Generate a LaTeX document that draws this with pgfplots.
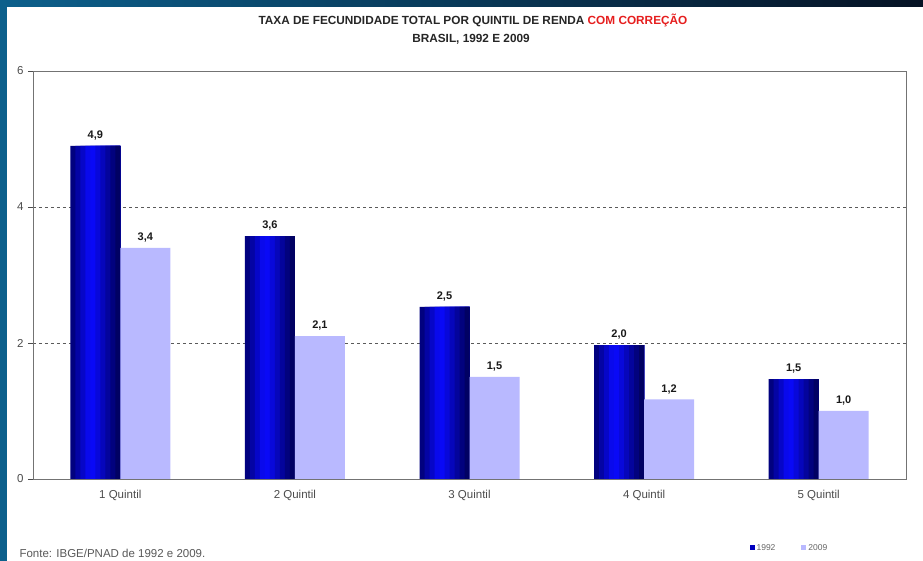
\documentclass[border=0pt]{standalone}
\usepackage{pgfplots}
\usepackage{pgfplotstable}
\pgfplotsset{compat=1.18}
\usepackage{fontspec}
\setmainfont{Liberation Sans}
\definecolor{darkbar}{RGB}{0,0,110}
\definecolor{darkbarR}{RGB}{0,0,85}
\definecolor{brightbar}{RGB}{10,10,255}
\definecolor{lightbar}{RGB}{185,185,255}
\definecolor{gridc}{RGB}{90,90,90}
\definecolor{titlered}{RGB}{230,30,30}
\definecolor{bgleft}{RGB}{12,96,140}
\definecolor{bgright}{RGB}{6,18,36}
\pgfplotstableread{
x y
0 4.9
1 3.57
2 2.53
3 1.97
4 1.47
}\dataA
\pgfplotstableread{
x y
0 3.4
1 2.1
2 1.5
3 1.17
4 1.0
}\dataB
\begin{document}
\begin{tikzpicture}
\useasboundingbox (0pt,0pt) rectangle (923pt,561pt);
\fill[white] (0pt,0pt) rectangle (923pt,561pt);
\fill[bgleft] (0pt,0pt) rectangle (7pt,561pt);
\shade[left color=bgleft, right color=bgright] (0pt,554pt) rectangle (923pt,561pt);
\node[font=\fontsize{11.8}{13}\selectfont\bfseries, text=black!85] at (473pt,541pt) {TAXA DE FECUNDIDADE TOTAL POR QUINTIL DE RENDA \textcolor{titlered}{COM CORREÇÃO}};
\node[font=\fontsize{11.8}{13}\selectfont\bfseries, text=black!85] at (471pt,522pt) {BRASIL, 1992 E 2009};
\node[font=\fontsize{11.5}{13}\selectfont, text=black!65, anchor=west] at (16pt,8pt) {Fonte: IBGE/PNAD de 1992 e 2009.};
\begin{axis}[
  at={(33pt,82pt)}, anchor=south west,
  scale only axis, width=873pt, height=408pt,
  ybar, bar width=50pt,
  xmin=-0.5, xmax=4.5, ymin=0, ymax=6,
  xtick={0,1,2,3,4},
  xticklabels={1 Quintil,2 Quintil,3 Quintil,4 Quintil,5 Quintil},
  extra x ticks={0.5,1.5,2.5,3.5},
  extra x tick labels={},
  extra x tick style={major tick length=5pt, tick style={black!70}, tick align=outside},
  ytick={0,2,4,6},
  ymajorgrids,
  major grid style={dashed, gridc, line width=0.6pt},
  axis line style={black!55, line width=0.8pt},
  tick align=outside,
  tick pos=left,
  xtick style={draw=none},
  ytick style={black!70},
  major tick length=5pt,
  /pgf/number format/assume math mode=true,
  ticklabel style={font=\fontsize{11.5}{13}\selectfont, text=black!70},
  yticklabel style={xshift=-1pt},
  xticklabel style={yshift=-3pt},
  legend style={at={(0.8665,-0.169)}, anchor=center, draw=none, fill=none,
    legend columns=2, font=\fontsize{8.5}{9}\selectfont, text=black!60,
    /tikz/every even column/.append style={column sep=24pt}},
  legend image code/.code={\fill[#1] (0pt,-2.5pt) rectangle (5pt,2.5pt);},
]
% 1992 bars drawn as nested vertical stripes to imitate the gradient
\addplot[forget plot, draw=none, fill=brightbar!12!darkbar,  bar width=50pt, bar shift=-25pt] table[x=x,y=y] {\dataA};
\addplot[forget plot, draw=none, fill=brightbar!37!darkbar,  bar width=45pt, bar shift=-22.5pt] table[x=x,y=y] {\dataA};
\addplot[forget plot, draw=none, fill=brightbar!62!darkbar,  bar width=40pt, bar shift=-20pt] table[x=x,y=y] {\dataA};
\addplot[forget plot, draw=none, fill=brightbar!87!darkbar,  bar width=35pt, bar shift=-17.5pt] table[x=x,y=y] {\dataA};
\addplot[forget plot, draw=none, fill=brightbar!95!darkbarR, bar width=30pt, bar shift=-15pt] table[x=x,y=y] {\dataA};
\addplot[forget plot, draw=none, fill=brightbar!78!darkbarR, bar width=25pt, bar shift=-12.5pt] table[x=x,y=y] {\dataA};
\addplot[forget plot, draw=none, fill=brightbar!60!darkbarR, bar width=20pt, bar shift=-10pt] table[x=x,y=y] {\dataA};
\addplot[forget plot, draw=none, fill=brightbar!42!darkbarR, bar width=15pt, bar shift=-7.5pt] table[x=x,y=y] {\dataA};
\addplot[forget plot, draw=none, fill=brightbar!24!darkbarR, bar width=10pt, bar shift=-5pt] table[x=x,y=y] {\dataA};
\addplot[forget plot, draw=none, fill=brightbar!8!darkbarR,  bar width=5pt,  bar shift=-2.5pt] table[x=x,y=y] {\dataA};
% labels and legend entry for 1992
\addplot[draw=none, fill=none, bar shift=-25pt,
  nodes near coords,
  nodes near coords style={font=\fontsize{11}{13}\selectfont\bfseries, text=black!90, yshift=2pt,
    /pgf/number format/.cd, use comma, fixed, fixed zerofill, precision=1, assume math mode=true},
  legend image code/.code={\fill[blue!75!black] (0pt,-2.5pt) rectangle (5pt,2.5pt);}]
  table[x=x,y=y] {\dataA};
\addplot[draw=none, fill=lightbar, bar shift=25pt,
  nodes near coords,
  nodes near coords style={font=\fontsize{11}{13}\selectfont\bfseries, text=black!90, yshift=2pt,
    /pgf/number format/.cd, use comma, fixed, fixed zerofill, precision=1, assume math mode=true},
  legend image code/.code={\fill[lightbar] (0pt,-2.5pt) rectangle (5pt,2.5pt);}]
  table[x=x,y=y] {\dataB};
\legend{1992,2009}
\end{axis}
\end{tikzpicture}
\end{document}
